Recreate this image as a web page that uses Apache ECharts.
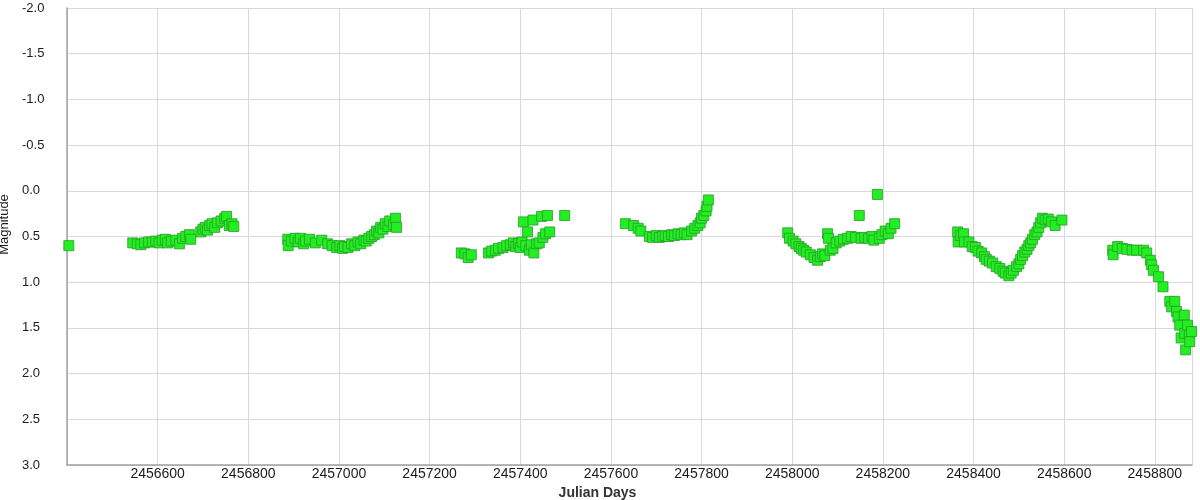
<!DOCTYPE html>
<html>
<head>
<meta charset="utf-8">
<script src="https://cdn.jsdelivr.net/npm/echarts@6/dist/echarts.min.js"></script>
<style>html,body{margin:0;padding:0;background:#fff}#chart{width:1200px;height:500px}</style>
</head>
<body>
<div id="chart"></div>
<script>
// Observations: [Julian Day, Magnitude]
const season0 = [[2456404,0.60]];
const season1 = [[2456545,0.57],[2456555,0.58],[2456563,0.59],[2456571,0.57],[2456580,0.56],[2456588,0.56],[2456596,0.55],[2456603,0.57],[2456610,0.54],[2456617,0.53],[2456622,0.57],[2456630,0.55],[2456640,0.54],[2456648,0.58],[2456655,0.52],[2456662,0.50],[2456670,0.48],[2456673,0.53],[2456695,0.45],[2456700,0.42],[2456705,0.40],[2456710,0.43],[2456715,0.38],[2456720,0.36],[2456726,0.40],[2456732,0.35],[2456740,0.33],[2456748,0.30],[2456752,0.28],[2456758,0.38],[2456764,0.36],[2456768,0.39]];
const season2 = [[2456887,0.53],[2456888,0.60],[2456895,0.55],[2456903,0.52],[2456910,0.56],[2456915,0.52],[2456922,0.58],[2456926,0.55],[2456935,0.53],[2456948,0.57],[2456962,0.54],[2456975,0.58],[2456985,0.60],[2456995,0.62],[2457002,0.60],[2457008,0.63],[2457012,0.61],[2457020,0.62],[2457028,0.58],[2457035,0.60],[2457042,0.56],[2457048,0.58],[2457055,0.54],[2457060,0.55],[2457066,0.52],[2457072,0.50],[2457078,0.48],[2457083,0.44],[2457088,0.46],[2457092,0.40],[2457097,0.42],[2457102,0.36],[2457108,0.39],[2457112,0.33],[2457120,0.37],[2457125,0.30],[2457127,0.40]];
const season3 = [[2457270,0.68],[2457278,0.69],[2457285,0.73],[2457292,0.70],[2457330,0.68],[2457337,0.66],[2457345,0.65],[2457352,0.63],[2457362,0.62],[2457370,0.60],[2457378,0.59],[2457385,0.57],[2457390,0.61],[2457396,0.58],[2457400,0.62],[2457404,0.56],[2457407,0.34],[2457412,0.60],[2457416,0.45],[2457420,0.65],[2457424,0.59],[2457428,0.32],[2457430,0.68],[2457436,0.58],[2457442,0.57],[2457447,0.28],[2457450,0.51],[2457456,0.47],[2457460,0.27],[2457465,0.45],[2457498,0.27]];
const season4 = [[2457632,0.36],[2457650,0.38],[2457660,0.41],[2457666,0.44],[2457685,0.50],[2457692,0.51],[2457700,0.49],[2457707,0.51],[2457714,0.50],[2457720,0.49],[2457727,0.50],[2457734,0.48],[2457740,0.49],[2457748,0.47],[2457755,0.48],[2457762,0.46],[2457768,0.48],[2457778,0.44],[2457785,0.41],[2457792,0.38],[2457797,0.35],[2457800,0.30],[2457805,0.27],[2457810,0.22],[2457812,0.17],[2457815,0.10]];
const season5 = [[2457990,0.46],[2457994,0.52],[2458002,0.55],[2458008,0.58],[2458015,0.61],[2458020,0.63],[2458025,0.65],[2458031,0.67],[2458040,0.70],[2458048,0.73],[2458056,0.76],[2458062,0.72],[2458067,0.69],[2458072,0.71],[2458078,0.47],[2458080,0.52],[2458084,0.65],[2458090,0.63],[2458097,0.57],[2458105,0.55],[2458113,0.53],[2458122,0.52],[2458130,0.50],[2458140,0.51],[2458148,0.27],[2458152,0.52],[2458160,0.51],[2458168,0.52],[2458176,0.50],[2458180,0.54],[2458188,0.04],[2458192,0.52],[2458198,0.48],[2458205,0.44],[2458212,0.47],[2458218,0.41],[2458226,0.36]];
const season6 = [[2458365,0.45],[2458366,0.56],[2458372,0.49],[2458378,0.47],[2458380,0.56],[2458390,0.56],[2458397,0.61],[2458404,0.62],[2458410,0.66],[2458418,0.68],[2458424,0.72],[2458428,0.75],[2458435,0.77],[2458442,0.79],[2458450,0.83],[2458458,0.85],[2458465,0.88],[2458470,0.90],[2458478,0.93],[2458483,0.90],[2458488,0.87],[2458495,0.83],[2458500,0.80],[2458504,0.75],[2458508,0.71],[2458513,0.67],[2458518,0.64],[2458522,0.60],[2458526,0.57],[2458530,0.53],[2458535,0.48],[2458540,0.45],[2458544,0.40],[2458548,0.35],[2458552,0.30],[2458558,0.32],[2458565,0.31],[2458572,0.34],[2458580,0.38],[2458595,0.32]];
const season7 = [[2458707,0.65],[2458708,0.70],[2458718,0.61],[2458728,0.63],[2458738,0.64],[2458750,0.65],[2458760,0.65],[2458775,0.65],[2458782,0.68],[2458790,0.76],[2458793,0.81],[2458797,0.87],[2458808,0.94],[2458818,1.05],[2458833,1.21],[2458837,1.27],[2458844,1.21],[2458848,1.32],[2458851,1.38],[2458855,1.47],[2458858,1.61],[2458865,1.36],[2458866,1.56],[2458868,1.74],[2458872,1.47],[2458876,1.58],[2458877,1.65],[2458881,1.54]];

const xTitle = 'Julian Days';
const yTitle = 'Magnitude';

const allPoints = [].concat(season0, season1, season2, season3, season4, season5, season6, season7);

const chart = echarts.init(document.getElementById('chart'), null, {renderer: 'canvas'});
chart.setOption({
  animation: false,
  backgroundColor: '#fff',
  grid: {left: 67, right: 8, top: 8, bottom: 35, containLabel: false, outerBoundsMode: 'none'},
  xAxis: {
    type: 'value',
    min: 2456400, max: 2458882, interval: 200,
    axisLine: {show: true, onZero: false, lineStyle: {color: '#a0a0a0', width: 1.5}},
    axisTick: {show: false},
    axisLabel: {showMinLabel: false, showMaxLabel: false, color: '#1a1a1a', fontSize: 14, fontFamily: 'Liberation Sans, Arial, sans-serif', margin: 2, formatter: v => String(v)},
    splitLine: {show: true, lineStyle: {color: '#d9d9d9', width: 1}},
    name: xTitle, nameLocation: 'middle', nameGap: 18,
    nameTextStyle: {fontWeight: 'bold', fontSize: 14, color: '#333', fontFamily: 'Liberation Sans, Arial, sans-serif', padding: [0, 64, 0, 0]}
  },
  yAxis: {
    type: 'value',
    inverse: true,
    min: -2, max: 3, interval: 0.5,
    axisLine: {show: true, onZero: false, lineStyle: {color: '#a0a0a0', width: 1.5}},
    axisTick: {show: false},
    axisLabel: {align: 'left', margin: 45, color: '#1a1a1a', fontSize: 13, fontFamily: 'Liberation Sans, Arial, sans-serif', formatter: v => v.toFixed(1)},
    splitLine: {show: true, lineStyle: {color: '#d9d9d9', width: 1}},
    name: yTitle, nameLocation: 'middle', nameGap: 52, nameRotate: 90,
    nameTextStyle: {fontSize: 13, color: '#1a1a1a', fontFamily: 'Liberation Sans, Arial, sans-serif', padding: [0, 0, 0, 24]}
  },
  series: [{
    type: 'scatter',
    data: allPoints,
    symbol: 'rect',
    symbolSize: 10,
    itemStyle: {color: '#22ee22', borderColor: '#2a9a2a', borderWidth: 0.8, opacity: 1}
  }]
});
</script>
</body>
</html>
